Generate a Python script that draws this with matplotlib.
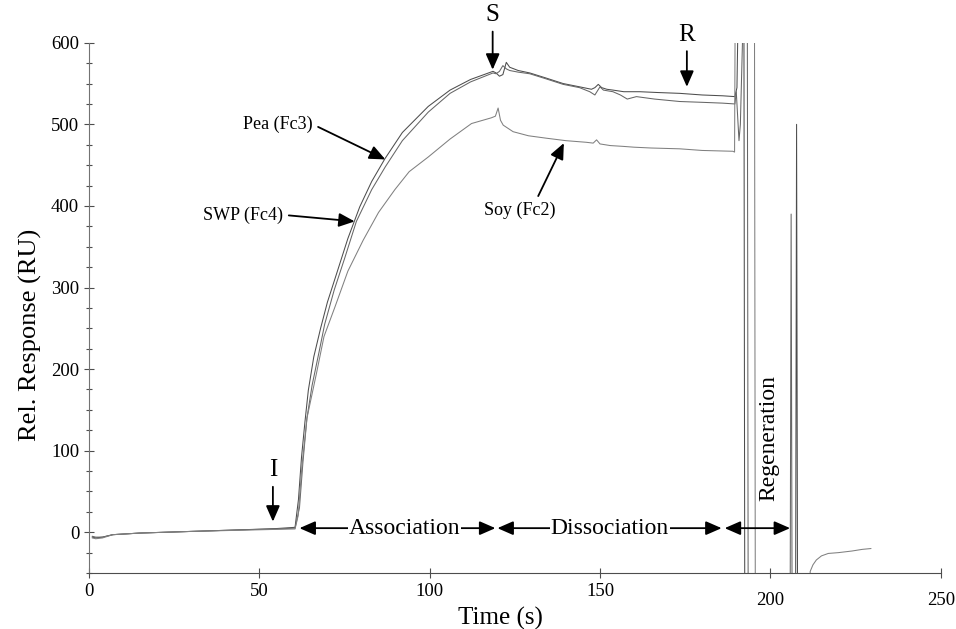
import matplotlib
matplotlib.use("Agg")
import matplotlib.pyplot as plt
from matplotlib.ticker import MultipleLocator
from matplotlib.transforms import ScaledTranslation

plt.rcParams['font.family'] = ['Liberation Serif', 'DejaVu Serif']

# sensorgram traces (time in s, response in RU)
pea_t = [1, 2, 4, 7, 15, 30, 45, 55, 60.5,
         61.5, 62.4, 63.4, 64.4, 66, 68, 70, 72.7, 76, 79.5, 83, 86.9, 92, 99.6, 106, 112, 118.6,
         119.5, 120.5, 121.5, 122.5, 123.5, 126, 129.4, 134, 139.2, 144, 147.5, 148.5, 149.5, 150.5,
         152, 153.8, 157, 161.7, 167, 173.4, 180, 186, 189.6,
         190.2, 191.0, 192.2, 192.5, 207.4, 207.7, 208.0, 211]
pea_y = [-6, -7, -6, -3, -1, 1, 3, 4.5, 6,
         40, 92, 135, 174, 215, 250, 282, 317, 360, 399, 430, 458, 490, 522, 542, 555, 565,
         563, 559, 561, 576, 570, 566, 563, 557, 550, 546, 543, 545, 549, 545,
         543, 542, 540, 540, 539, 538, 536, 535, 534,
         545, 760, 760, -120, -120, 500, -120, -120]

swp_t = [1, 2, 4, 7, 15, 30, 45, 55, 60.5,
         61.8, 62.8, 64, 65.5, 67.5, 69.2, 72, 75, 78.5, 83, 87, 92, 99.6, 106, 112, 118.6,
         119.5, 120.5, 121.5, 122.5, 123.5, 126, 129.4, 134, 139.2, 144, 147, 148.5, 150, 151,
         153.8, 156, 158, 160.7, 166, 173.4, 180, 186, 189.6,
         190.0, 190.8, 191.2, 192.8, 193.2, 193.5, 205.8, 206.1, 206.4, 211]
swp_y = [-5, -6, -6, -3, -1, 1, 3, 4, 5,
         30, 85, 140, 180, 220, 255, 297, 335, 381, 420, 448, 480, 515, 538, 552, 563,
         562, 565, 572, 568, 566, 564, 562, 556, 549, 545, 540, 536, 546, 542,
         540, 536, 531, 534, 531, 528, 527, 526, 525,
         540, 480, 500, 760, 760, -120, -120, 390, -120, -120]

soy_t = [1, 2, 4, 7, 15, 30, 45, 55, 60.5,
         61.4, 62.5, 64, 66.8, 69, 72.2, 76, 80.5, 85, 89.8, 94, 99.6, 106, 112.3, 118.1,
         119.3, 120.1, 120.8, 121.6, 124.5, 129, 134.3, 140, 146, 148, 149, 150, 153, 156.8,
         160, 165, 173.4, 180, 189, 189.5,
         189.8, 195.3, 195.6, 211.3, 211.7, 212.5, 213.5, 215, 217, 220, 224, 227, 229.5]
soy_y = [-7, -8, -7, -3, -1, 1, 2.5, 3.5, 4,
         20, 80, 140, 195, 240, 276, 320, 358, 392, 420, 442, 460, 482, 501, 508,
         510, 520, 505, 499, 491, 486, 483, 480, 478, 477, 481, 476, 474, 473,
         472, 471, 470, 468, 467, 466,
         760, 760, -120, -120, -48, -40, -34, -29, -26, -25, -23, -21, -20]

y_ticks = [0, 100, 200, 300, 400, 500, 600]
x_ticks = [0, 50, 100, 150, 200, 250]

fig = plt.figure(figsize=(9.56, 6.29), dpi=100)
ax = fig.add_axes([0.093, 0.089, 0.891, 0.843])

ax.plot(pea_t, pea_y, color='0.3', lw=0.75)
ax.plot(swp_t, swp_y, color='0.4', lw=0.75)
ax.plot(soy_t, soy_y, color='0.5', lw=0.75)

ax.set_xlim(0, 250)
ax.set_ylim(-50, 600)
ax.set_xticks(x_ticks)
ax.set_yticks(y_ticks)
ax.yaxis.set_minor_locator(MultipleLocator(25))
ax.tick_params(axis='both', which='major', direction='inout', length=7, width=0.8,
               labelsize=13.5, color='0.3')
ax.tick_params(axis='y', which='minor', direction='inout', length=4, width=0.8, color='0.3')
for s in ['top', 'right']:
    ax.spines[s].set_visible(False)
ax.spines['left'].set_color('0.45')
ax.spines['bottom'].set_color('0.3')
ax.spines['left'].set_linewidth(0.8)
ax.spines['bottom'].set_linewidth(0.8)

# the scanned figure has its last two x labels sitting a little lower
for lbl in ax.get_xticklabels()[4:]:
    lbl.set_transform(lbl.get_transform() + ScaledTranslation(0, -7 / 72, fig.dpi_scale_trans))

ax.set_xlabel('Time (s)', fontsize=18)
ax.xaxis.set_label_coords(0.483, -0.063)
ax.set_ylabel('Rel. Response (RU)', fontsize=19)
ax.yaxis.set_label_coords(-0.055, 0.45)

head = '-|>,head_length=0.8,head_width=0.35'

def pointer(label, xy, xytext, rel=(1, 0.5), size=13):
    ax.annotate(label, xy=xy, xytext=xytext, fontsize=size, ha='center', va='center',
                annotation_clip=False,
                arrowprops=dict(arrowstyle=head, color='k', lw=1.3, mutation_scale=12,
                                shrinkA=2, shrinkB=0, relpos=rel))

pointer('Pea (Fc3)', (87, 457), (55.5, 500))
pointer('SWP (Fc4)', (78, 381), (45.3, 389))
pointer('Soy (Fc2)', (139.4, 477), (126.5, 395), rel=(0.72, 1))
pointer('I', (54, 13), (54, 76), rel=(0.5, 0), size=18)
pointer('S', (118.5, 567), (118.5, 634), rel=(0.5, 0), size=18)
pointer('R', (175.5, 546), (175.5, 610), rel=(0.5, 0), size=18)

# phase arrows along the baseline
phases = [('Association', 61.8, 119.3, 92.7),
          ('Dissociation', 119.9, 185.7, 152.9),
          ('', 186.6, 205.8, 196)]
for name, x0, x1, xt in phases:
    ax.annotate('', xy=(x0, 5), xytext=(x1, 5),
                arrowprops=dict(arrowstyle='<|-|>,head_length=0.8,head_width=0.35', color='k',
                                lw=1.3, mutation_scale=12, shrinkA=0, shrinkB=0))
    if name:
        ax.text(xt, 5, name, fontsize=17, ha='center', va='center',
                bbox=dict(facecolor='white', edgecolor='none', pad=0.5))

ax.text(199.5, 38, 'Regeneration', fontsize=17, rotation=90, ha='center', va='bottom')

fig.savefig('out.png', dpi=100)
